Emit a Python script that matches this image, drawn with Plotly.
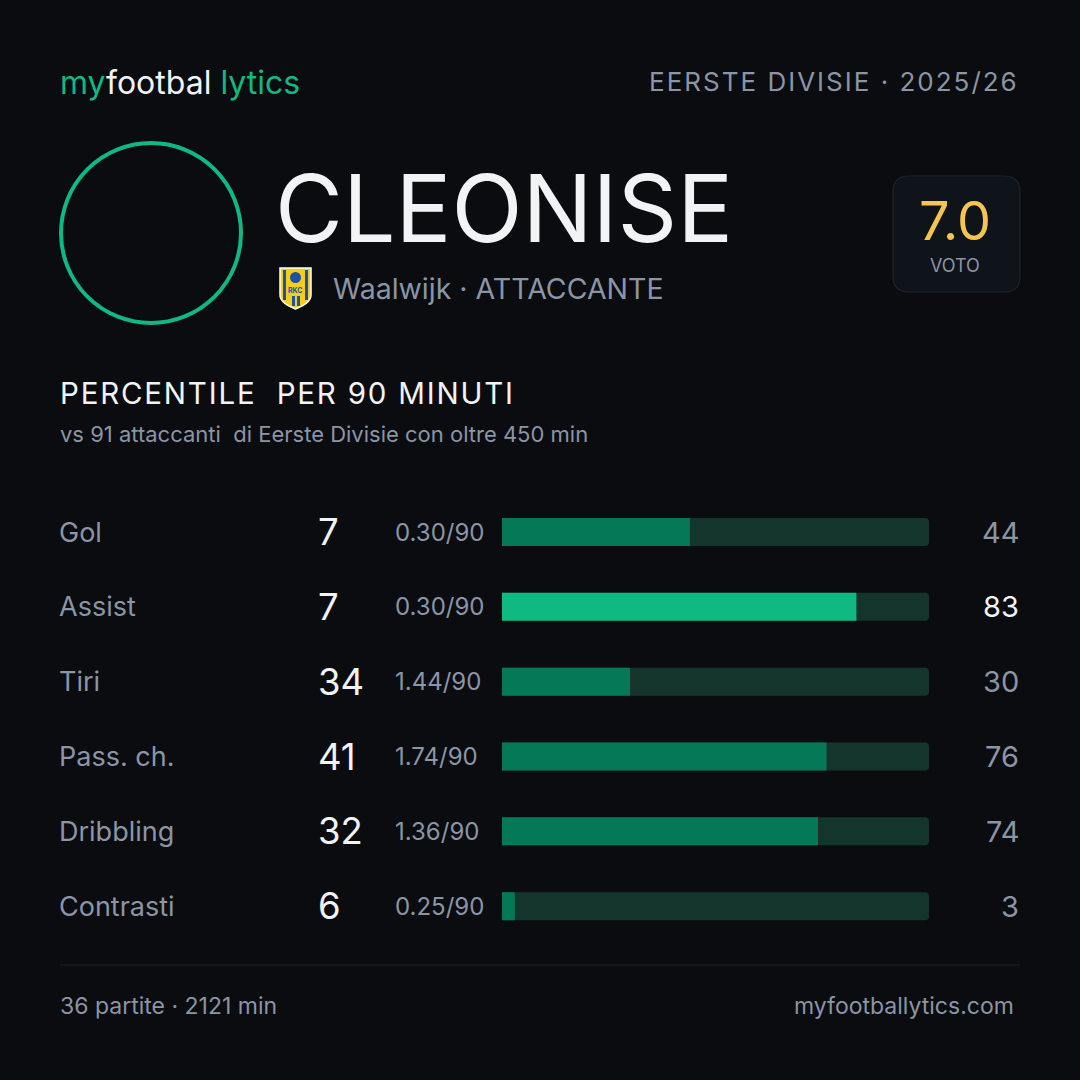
import plotly.graph_objects as go

# --- data ---
player = "CLEONISE"
club = "Waalwijk"
role = "ATTACCANTE"
league = "EERSTE DIVISIE · 2025/26"
rating = "7.0"
metrics = ["Gol", "Assist", "Tiri", "Pass. ch.", "Dribbling", "Contrasti"]
totals = [7, 7, 34, 41, 32, 6]
per90 = ["0.30/90", "0.30/90", "1.44/90", "1.74/90", "1.36/90", "0.25/90"]
percentiles = [44, 83, 30, 76, 74, 3]
matches = 36
minutes = 2121

BG = "#0a0c10"
TRACK = "#14352b"
BAR = "#047857"
BAR_HI = "#10b981"
GREEN = "#10b981"
WHITE = "#f1f3f5"
GREY = "#8b95a5"
FONT = "Inter"

W = H = 1080


def rounded_rect(x0, y0, x1, y1, r):
    return (f"M{x0+r},{y0} L{x1-r},{y0} Q{x1},{y0} {x1},{y0+r} "
            f"L{x1},{y1-r} Q{x1},{y1} {x1-r},{y1} L{x0+r},{y1} "
            f"Q{x0},{y1} {x0},{y1-r} L{x0},{y0+r} Q{x0},{y0} {x0+r},{y0} Z")


fig = go.Figure()

# invisible trace so the pixel-like base axes exist
fig.add_trace(go.Scatter(x=[0, W], y=[0, H], mode="markers",
                         marker=dict(opacity=0), hoverinfo="skip",
                         showlegend=False, xaxis="x", yaxis="y"))

# percentile bars: full track + value
fig.add_trace(go.Bar(x=[100] * len(metrics), y=metrics, orientation="h",
                     marker=dict(color=TRACK, line_width=0),
                     hoverinfo="skip", showlegend=False,
                     xaxis="x2", yaxis="y2"))
fig.add_trace(go.Bar(x=percentiles, y=metrics, orientation="h",
                     marker=dict(color=[BAR_HI if p >= 80 else BAR for p in percentiles],
                                 line_width=0),
                     hoverinfo="skip", showlegend=False,
                     xaxis="x2", yaxis="y2"))

ann = []


def txt(x, y, s, size, color, xanchor="left", yref="y"):
    ann.append(dict(x=x, y=y, xref="x", yref=yref, text=s, showarrow=False,
                    xanchor=xanchor, yanchor="middle",
                    font=dict(family=FONT, size=size, color=color)))


# header
txt(58, 82, f"<span style='color:{GREEN}'>my</span>footbal "
            f"<span style='color:{GREEN}'>lytics</span>", 32, WHITE)
txt(1021, 81, f"<span style='letter-spacing:2px'>{league}</span>", 26, GREY, "right")

# player block
txt(273, 208, player, 93, WHITE)
txt(331, 288, f"{club} · {role}", 28.5, GREY)

# rating badge
txt(955, 220, rating, 54, "#f5c451", "center")
txt(955, 265, "VOTO", 18, GREY, "center")

# section titles
txt(58, 393, "<span style='letter-spacing:1.8px'>PERCENTILE  PER 90 MINUTI</span>", 29.5, WHITE)
txt(58, 434, "vs 91 attaccanti  di Eerste Divisie con oltre 450 min", 22, GREY)

# rows
for m, t, p9, pc in zip(metrics, totals, per90, percentiles):
    txt(57, m, m, 27, GREY, yref="y2")
    txt(316, m, str(t), 36.5, WHITE, yref="y2")
    txt(393, m, p9, 24, GREY, yref="y2")
    txt(1021, m, str(pc), 29, WHITE if pc >= 80 else GREY, "right", yref="y2")

# footer
txt(58, 1006, f"{matches} partite · {minutes} min", 23, GREY)
txt(1016, 1006, "myfootballytics.com", 23, GREY, "right")

shapes = [
    # avatar ring
    dict(type="circle", xref="x", yref="y", x0=61, y0=143, x1=241, y1=323,
         line=dict(color=GREEN, width=4), fillcolor=BG),
    # badge
    dict(type="path", xref="x", yref="y", path=rounded_rect(893, 176, 1020, 292, 16),
         fillcolor="#0f131a", line=dict(color="#1e242d", width=1.2)),
    # club crest
    dict(type="path", xref="x", yref="y",
         path="M280,268 L311,268 L311,295 Q311,303 295.5,309 Q280,303 280,295 Z",
         fillcolor="#f2cf1d", line=dict(color="#ffffff", width=1.5)),
    dict(type="rect", xref="x", yref="y", x0=283, y0=270, x1=286, y1=300,
         fillcolor="#1f4fa8", line_width=0),
    dict(type="rect", xref="x", yref="y", x0=305, y0=270, x1=308, y1=300,
         fillcolor="#1f4fa8", line_width=0),
    dict(type="rect", xref="x", yref="y", x0=292, y0=296, x1=295, y1=306,
         fillcolor="#1f4fa8", line_width=0),
    dict(type="rect", xref="x", yref="y", x0=297, y0=296, x1=300, y1=306,
         fillcolor="#1f4fa8", line_width=0),
    dict(type="circle", xref="x", yref="y", x0=290, y0=272, x1=301, y1=283,
         fillcolor="#1f4fa8", line_width=0),
    # footer rule
    dict(type="line", xref="x", yref="y", x0=60, y0=965, x1=1020, y1=965,
         line=dict(color="#1f232b", width=1)),
]
ann.append(dict(x=295.5, y=290, xref="x", yref="y", text="<b>RKC</b>", showarrow=False,
                font=dict(family=FONT, size=7, color="#1f4fa8")))

rows_top = 494.6
rows_bot = 943.6

fig.update_layout(
    width=W, height=H,
    margin=dict(l=0, r=0, t=0, b=0),
    paper_bgcolor=BG, plot_bgcolor=BG,
    barmode="overlay", bargap=0.626, barcornerradius=4,
    xaxis=dict(range=[0, W], domain=[0, 1], visible=False, fixedrange=True),
    yaxis=dict(range=[H, 0], domain=[0, 1], visible=False, fixedrange=True),
    xaxis2=dict(range=[0, 100], domain=[502 / W, 929 / W], anchor="y2",
                visible=False, fixedrange=True),
    yaxis2=dict(type="category", categoryarray=metrics, autorange="reversed",
                domain=[1 - rows_bot / H, 1 - rows_top / H], anchor="x2",
                visible=False, fixedrange=True),
    shapes=shapes,
    annotations=ann,
    font=dict(family=FONT),
)

fig.write_html("out.html", config={"displayModeBar": False},
               post_script="document.body.style.margin='0';"
                           "document.body.style.background='#0a0c10';"
                           "document.body.style.overflow='hidden';")
